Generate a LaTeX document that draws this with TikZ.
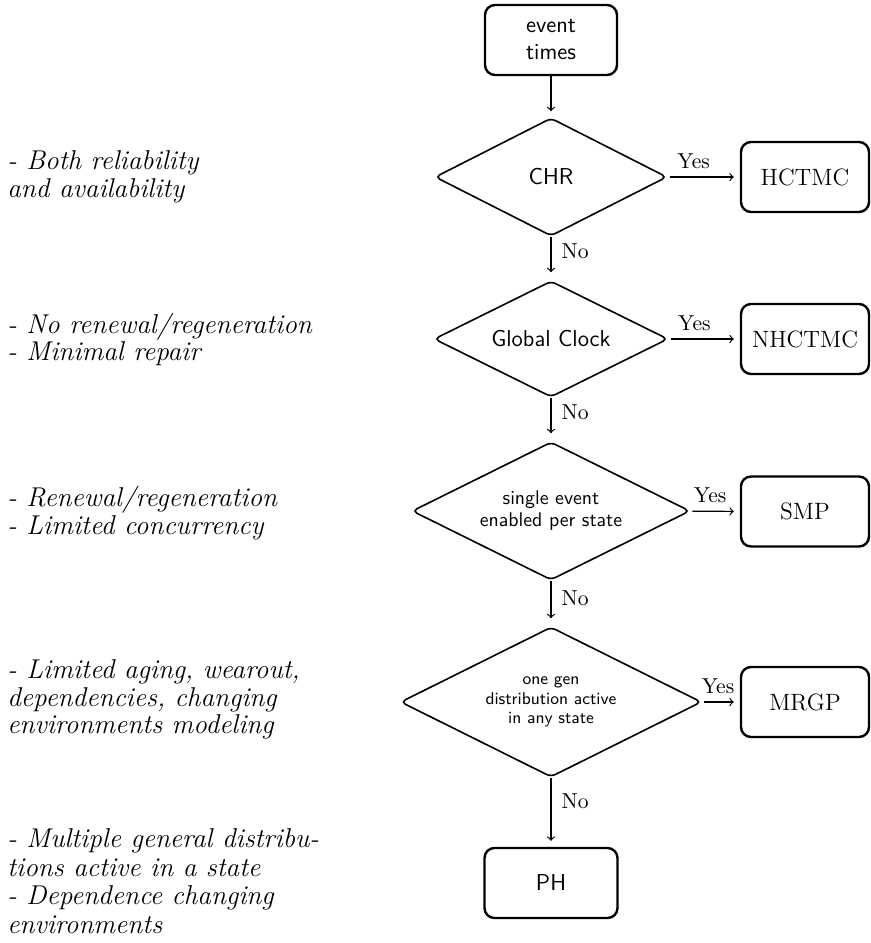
\documentclass[tikz,border=0pt]{standalone}
\usetikzlibrary{shapes.geometric}
\begin{document}
\begin{tikzpicture}[x=0.5pt,y=-0.5pt,
  box/.style={draw, line width=1.2pt, rounded corners=5pt, minimum height=35pt,
    inner sep=2pt, align=center},
  sansbox/.style={box, font=\sffamily\fontsize{11.5}{13.5}\selectfont},
  serifbox/.style={box, minimum width=64pt, font=\fontsize{11.8}{14}\selectfont},
  decide/.style={draw, diamond, aspect=2, inner sep=0pt, line width=0.8pt,
    rounded corners=2.5pt, align=center},
  flow/.style={->, line width=0.6pt},
  yeslab/.style={anchor=base, yshift=4.3pt, inner sep=0pt, font=\fontsize{10.8}{12}\selectfont},
  nolab/.style={anchor=west, xshift=5pt, inner sep=0pt, font=\fontsize{10.8}{12}\selectfont},
  remark/.style={anchor=west, align=left, inner sep=0pt,
    font=\fontsize{13.6}{13.75}\selectfont\itshape}
]
\useasboundingbox (0,0) rectangle (871,943);

% main decision column
\node[sansbox, minimum width=66pt] (ev) at (551,40) {event\\times};
\node[decide, minimum width=116pt, minimum height=59pt,
  font=\sffamily\fontsize{11.5}{13}\selectfont] (chr) at (551,177) {CHR};
\node[decide, minimum width=117pt, minimum height=58pt,
  font=\sffamily\fontsize{11.5}{13}\selectfont] (gc) at (551,339) {Global Clock};
\node[decide, minimum width=139pt, minimum height=69pt,
  font=\sffamily\fontsize{9.9}{11}\selectfont] (sev) at (551,511) {single event\\enabled per state};
\node[decide, minimum width=150.5pt, minimum height=75pt,
  font=\sffamily\fontsize{8.5}{9.6}\selectfont] (gen) at (551,702) {one gen\\distribution active\\in any state};
\node[sansbox, minimum width=66.5pt] (ph) at (551,883) {PH};

% model outcomes
\node[serifbox] (hctmc) at (805,177) {HCTMC};
\node[serifbox] (nhctmc) at (805,339) {NHCTMC};
\node[serifbox] (smp) at (805,511.5) {SMP};
\node[serifbox] (mrgp) at (805,702) {MRGP};

% vertical flow
\draw[flow, shorten >=3pt] (ev) -- (chr);
\draw[flow, shorten >=4pt] (chr) -- node[nolab, pos=.34] {No} (gc);
\draw[flow, shorten >=4pt] (gc) -- node[nolab, pos=.34] {No} (sev);
\draw[flow, shorten >=4pt] (sev) -- node[nolab, pos=.38] {No} (gen);
\draw[flow, shorten >=3pt] (gen) -- node[nolab, pos=.34] {No} (ph);

% yes branches
\draw[flow, shorten <=1pt, shorten >=3pt] (chr) -- node[yeslab, pos=.36] {Yes} (hctmc);
\draw[flow, shorten <=1pt, shorten >=3pt] (gc) -- node[yeslab, pos=.36] {Yes} (nhctmc);
\draw[flow, shorten <=1pt, shorten >=3pt] (sev) -- node[yeslab, pos=.40] {Yes} (smp);
\draw[flow, shorten <=1pt, shorten >=3pt] (gen) -- node[yeslab, pos=.42] {Yes} (mrgp);

% remarks on the left
\node[remark] (r1) at (7,177) {- Both reliability\\and availability};
\node[remark] (r2) at (7,339.5) {- No renewal/regeneration\\- Minimal repair};
\node[remark] (r3) at (7,513) {- Renewal/regeneration\\- Limited concurrency};
\node[remark] (r4) at (7,699.5) {- Limited aging, wearout,\\dependencies, changing\\environments modeling};
\node[remark, font=\fontsize{13.6}{14.3}\selectfont\itshape] (r5) at (7,881)
  {- Multiple general distribu-\\tions active in a state\\- Dependence changing\\environments};
\end{tikzpicture}
\end{document}
